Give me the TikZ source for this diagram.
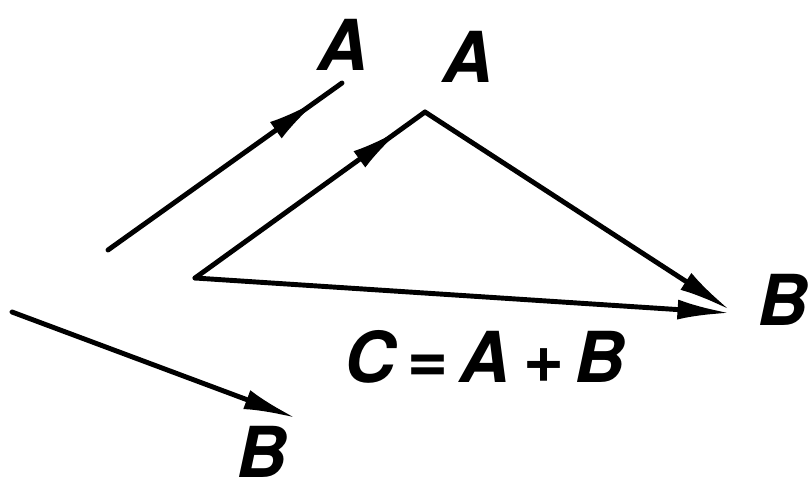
\documentclass[tikz,border=0pt]{standalone}
\usepackage{fontspec}
\setsansfont{TeX Gyre Heros}
\usetikzlibrary{arrows.meta, decorations.markings}

\begin{document}
\begin{tikzpicture}[x=0.02cm, y=-0.02cm,
  vec/.style={line width=2.8pt, line cap=round},
  tipvec/.style={vec, -{Latex[length=1.05cm, width=0.4cm]}},
  midvec/.style={vec, postaction={decorate}, decoration={markings,
    mark=at position #1 with {\arrow{Latex[length=1.05cm, width=0.4cm]}}}},
  lbl/.style={font=\sffamily\bfseries\itshape\fontsize{40}{42}\selectfont, inner sep=0pt}
]
  \useasboundingbox (0,0) rectangle (808,493);

  % separate vectors
  \coordinate (a1s) at (108,250);
  \coordinate (a1e) at (342,83);
  \coordinate (b1s) at (12,312);
  \coordinate (b1e) at (296,418);
  % triangle
  \coordinate (orig) at (195,278);
  \coordinate (apex) at (425,112);
  \coordinate (tipB) at (730,310);
  \coordinate (tipC) at (730,313);

  \draw[midvec=0.9] (a1s) -- (a1e);
  \draw[tipvec] (b1s) -- (b1e);
  \draw[midvec=0.9] (orig) -- (apex);
  \draw[tipvec] (apex) -- (tipB);
  \draw[tipvec] (orig) -- (tipC);

  \node[lbl] (la1) at (343,45) {A};
  \node[lbl] (lb1) at (262,452) {B};
  \node[lbl] (la2) at (468,57) {A};
  \node[lbl] (lb2) at (783,300) {B};
  \node[lbl] (lc) at (485,357) {C\,=\,A\,+\,B};
\end{tikzpicture}
\end{document}
